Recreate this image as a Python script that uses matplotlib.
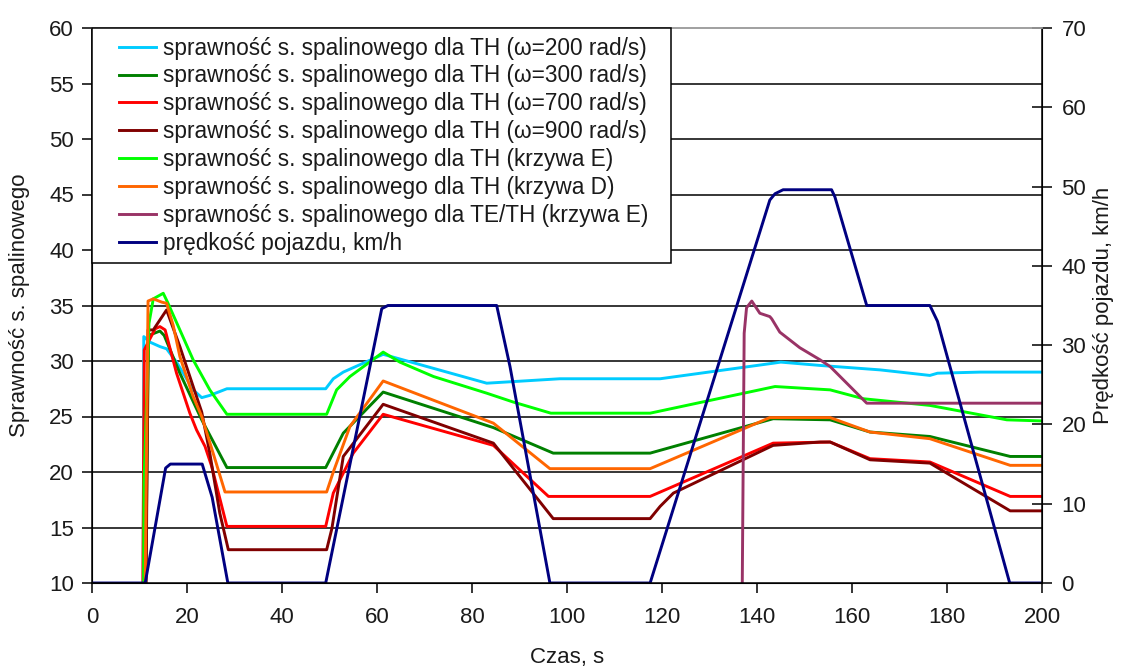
import matplotlib
matplotlib.use("Agg")
import matplotlib.pyplot as plt
from matplotlib.lines import Line2D
from matplotlib.legend_handler import HandlerLine2D

plt.rcParams['font.family'] = ['Liberation Sans', 'DejaVu Sans']

# --- data -------------------------------------------------------------
labels = [
    "sprawność s. spalinowego dla TH (ω=200 rad/s)",
    "sprawność s. spalinowego dla TH (ω=300 rad/s)",
    "sprawność s. spalinowego dla TH (ω=700 rad/s)",
    "sprawność s. spalinowego dla TH (ω=900 rad/s)",
    "sprawność s. spalinowego dla TH (krzywa E)",
    "sprawność s. spalinowego dla TH (krzywa D)",
    "sprawność s. spalinowego dla TE/TH (krzywa E)",
    "prędkość pojazdu, km/h",
]
colors = ["#00CCFF", "#008000", "#FF0000", "#800000",
          "#00FF00", "#FF6600", "#993366", "#000080"]

t_w200 = [10.8, 10.9, 12.2, 14.3, 15.7, 17.8, 21.3, 23.1, 24.8, 28.4, 49.2, 50.8,
          52.9, 59.2, 61.3, 83.1, 98.5, 119.6, 143.4, 145.0, 153.3, 165.9, 176.4,
          178.0, 187.0, 200.0]
eta_w200 = [10.0, 32.2, 31.7, 31.3, 31.1, 29.9, 27.4, 26.7, 26.9, 27.5, 27.5, 28.4,
            29.0, 30.2, 30.6, 28.0, 28.4, 28.4, 29.8, 29.9, 29.6, 29.2, 28.7,
            28.9, 29.0, 29.0]

t_w300 = [11.3, 11.9, 14.3, 15.2, 18.5, 23.1, 28.4, 49.2, 52.9, 61.3, 84.5, 97.1,
          117.5, 143.4, 155.4, 163.8, 176.4, 193.3, 200.0]
eta_w300 = [10.0, 32.3, 32.7, 32.3, 28.9, 24.7, 20.4, 20.4, 23.5, 27.2, 24.0, 21.7,
            21.7, 24.8, 24.7, 23.6, 23.2, 21.4, 21.4]

t_w700 = [10.7, 11.0, 12.2, 13.3, 14.3, 15.4, 17.8, 20.6, 22.0, 23.8, 25.2, 28.4,
          49.2, 50.8, 55.0, 61.3, 84.5, 96.1, 117.5, 143.4, 155.4, 163.8, 176.4,
          193.3, 200.0]
eta_w700 = [10.0, 31.0, 32.0, 32.9, 33.1, 32.8, 28.9, 25.3, 23.8, 22.3, 20.5, 15.1,
            15.1, 18.1, 21.7, 25.2, 22.4, 17.8, 17.8, 22.6, 22.7, 21.2, 20.9,
            17.8, 17.8]

t_w900 = [11.4, 11.8, 12.9, 14.3, 15.7, 18.5, 21.3, 23.1, 24.8, 26.9, 28.7, 49.4,
          50.5, 52.9, 61.3, 84.5, 97.1, 117.5, 119.6, 122.4, 143.4, 153.3, 155.4,
          163.8, 176.4, 193.3, 200.0]
eta_w900 = [10.0, 32.8, 32.8, 33.7, 34.6, 31.3, 27.7, 25.4, 21.7, 16.3, 13.0, 13.0,
            14.9, 21.4, 26.1, 22.6, 15.8, 15.8, 16.9, 18.1, 22.4, 22.7, 22.7,
            21.1, 20.8, 16.5, 16.5]

t_E = [10.85, 10.95, 12.0, 12.9, 15.0, 15.9, 18.5, 21.3, 24.8, 28.4, 49.4, 51.5,
       54.3, 61.3, 64.8, 71.9, 83.1, 88.7, 96.6, 117.5, 143.8, 155.4, 162.4,
       176.4, 192.6, 200.0]
eta_E = [10.0, 19.1, 33.4, 35.6, 36.1, 35.3, 32.8, 30.1, 27.4, 25.2, 25.2, 27.4,
         28.6, 30.8, 29.9, 28.6, 27.1, 26.3, 25.3, 25.3, 27.7, 27.4, 26.6,
         26.0, 24.7, 24.6]

t_D = [11.2, 11.8, 12.9, 14.7, 15.7, 17.1, 18.5, 21.3, 23.1, 25.5, 28.0, 49.4,
       50.8, 54.3, 61.3, 84.5, 96.4, 117.5, 142.7, 155.4, 163.8, 176.4, 193.3, 200.0]
eta_D = [10.0, 35.4, 35.6, 35.3, 35.2, 33.2, 30.4, 26.8, 25.0, 21.7, 18.2, 18.2,
         20.0, 24.1, 28.2, 24.4, 20.3, 20.3, 24.9, 24.9, 23.6, 23.0, 20.6, 20.6]

t_TE = [136.9, 137.3, 137.8, 138.9, 140.6, 142.7, 143.1, 144.8, 149.0, 153.3,
        155.4, 163.1, 200.0]
eta_TE = [10.0, 32.5, 34.8, 35.4, 34.3, 34.0, 33.8, 32.6, 31.2, 30.1,
          29.5, 26.2, 26.2]

t_speed = [0.0, 11.2, 15.5, 16.5, 23.2, 25.3, 28.6, 49.2, 61.0, 62.3, 85.2, 88.0,
           96.4, 117.5, 142.7, 143.8, 145.5, 155.7, 156.4, 163.1, 176.4, 178.0,
           193.2, 200.0]
v_speed = [0.0, 0.0, 14.5, 15.0, 15.0, 10.8, 0.0, 0.0, 34.6, 35.0, 35.0, 27.3,
           0.0, 0.0, 48.3, 49.1, 49.6, 49.6, 48.7, 35.0, 35.0, 33.0,
           0.0, 0.0]

eta_series = [(t_w200, eta_w200), (t_w300, eta_w300), (t_w700, eta_w700),
              (t_w900, eta_w900), (t_E, eta_E), (t_D, eta_D), (t_TE, eta_TE)]

# --- figure -----------------------------------------------------------
fig = plt.figure(figsize=(11.21, 6.69), dpi=100)
ax = fig.add_axes([92 / 1121, 1 - 583 / 669, 950 / 1121, 555 / 669])
ax2 = ax.twinx()

LW = 2.1
txt = "#1a1a1a"

handles = []
for (tx, ey), c in zip(eta_series, colors[:7]):
    h, = ax.plot(tx, ey, color=c, lw=LW)
    handles.append(h)
hs, = ax2.plot(t_speed, v_speed, color=colors[7], lw=LW)
handles.append(hs)

ax.set_xlim(0, 200)
ax.set_ylim(10, 60)
ax2.set_ylim(0, 70)
ax.set_xticks(range(0, 201, 20))
ax.set_yticks(range(10, 61, 5))
ax2.set_yticks(range(0, 71, 10))

# horizontal grid on the left scale
for y in range(15, 60, 5):
    ax.axhline(y, color="black", lw=1.1, zorder=0.5)

for side in ("left", "bottom", "right"):
    ax2.spines[side].set_color("black")
    ax2.spines[side].set_linewidth(1.1)
ax2.spines["top"].set_color("#999999")
ax2.spines["top"].set_linewidth(1.3)
ax.spines["top"].set_visible(False)

ax.tick_params(axis="y", direction="out", length=7, width=1.1, pad=6,
               labelsize=16, labelcolor=txt)
ax.tick_params(axis="x", direction="out", length=7, width=1.1, pad=10,
               labelsize=16, labelcolor=txt)
ax2.tick_params(axis="y", direction="inout", length=14, width=1.1, pad=7,
                labelsize=16, labelcolor=txt)

ax.set_xlabel("Czas, s", fontsize=16, color=txt, labelpad=14)
ax.set_ylabel("Sprawność s. spalinowego", fontsize=16, color=txt, labelpad=14)
ax2.set_ylabel("Prędkość pojazdu, km/h", fontsize=16, color=txt, labelpad=5)

fs = 16.3
leg = ax2.legend(handles, labels, loc="upper left",
                 bbox_to_anchor=(0, 1, 0.6095, 0), mode="expand",
                 borderaxespad=0, fontsize=fs, frameon=True, fancybox=False,
                 edgecolor="black", framealpha=1, labelspacing=0.215,
                 borderpad=0.38, handlelength=2.45, handletextpad=0.3,
                 handler_map={Line2D: HandlerLine2D(xpad=0.8)})
leg.get_frame().set_linewidth(1.1)
for tt in leg.get_texts():
    tt.set_color(txt)

fig.savefig("out.png", dpi=100)
